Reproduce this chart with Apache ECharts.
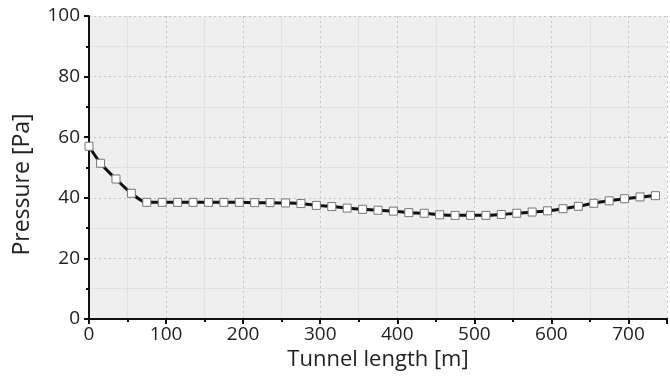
<!DOCTYPE html>
<html>
<head>
<meta charset="utf-8">
<script src="https://cdn.jsdelivr.net/npm/echarts@6/dist/echarts.min.js"></script>
<style>html,body{margin:0;padding:0;background:#fff;}#c{width:670px;height:382px;}</style>
</head>
<body>
<div id="c"></div>
<script>
const xValues = [0, 15, 35, 55, 75, 95, 115, 135, 155, 175, 195, 215, 235, 255, 275, 295, 315, 335, 355, 375, 395, 415, 435, 455, 475, 495, 515, 535, 555, 575, 595, 615, 635, 655, 675, 695, 715, 735];
const pressure = [57, 51.4, 46.2, 41.5, 38.5, 38.5, 38.5, 38.5, 38.5, 38.5, 38.5, 38.4, 38.4, 38.3, 38.1, 37.5, 37.1, 36.6, 36.2, 35.9, 35.6, 35.1, 34.9, 34.4, 34.2, 34.2, 34.2, 34.5, 34.9, 35.3, 35.7, 36.4, 37.2, 38.2, 39.0, 39.7, 40.3, 40.7];
const xTicks = [0, 100, 200, 300, 400, 500, 600, 700];
const yTicks = [0, 20, 40, 60, 80, 100];
const xName = 'Tunnel length [m]';
const yName = 'Pressure [Pa]';

const data = xValues.map((x, i) => [x, pressure[i]]);
const font = 'Open Sans, Liberation Sans, Arial, sans-serif';
const chart = echarts.init(document.getElementById('c'), null, {renderer: 'canvas'});
chart.setOption({
  animation: false,
  backgroundColor: '#ffffff',
  grid: {left: 89, top: 16, right: -6, bottom: 63, show: true, backgroundColor: '#efefef', borderWidth: 0},
  xAxis: [{
    type: 'value', min: 0, max: 750, interval: 100,
    name: xName, nameLocation: 'middle', nameGap: 24,
    nameTextStyle: {fontFamily: font, fontSize: 22, color: '#222'},
    axisLine: {show: true, onZero: false, lineStyle: {color: '#111', width: 2}},
    axisTick: {show: true, length: 5, lineStyle: {color: '#111', width: 2}},
    minorTick: {show: true, splitNumber: 2, length: 3, lineStyle: {color: '#111', width: 2}},
    axisLabel: {fontFamily: font, fontSize: 19, color: '#222', margin: 6,
      formatter: v => xTicks.includes(v) ? String(v) : ''},
    splitLine: {show: true, lineStyle: {color: '#c4c4c4', type: [2, 3], width: 1}},
    minorSplitLine: {show: true, lineStyle: {color: '#e2e2e2', width: 1}}
  }, {
    type: 'value', position: 'top', min: 0, max: 750,
    axisLine: {show: true, lineStyle: {color: '#111', width: 2}},
    axisTick: {show: false}, axisLabel: {show: false}, splitLine: {show: false}
  }],
  yAxis: {
    type: 'value', min: 0, max: 100, interval: 20,
    name: yName, nameLocation: 'middle', nameGap: 55, nameRotate: 90,
    nameTextStyle: {fontFamily: font, fontSize: 23, color: '#222', padding: [0, 34, 0, 0]},
    axisLine: {show: true, onZero: false, lineStyle: {color: '#111', width: 2}},
    axisTick: {show: true, length: 5, lineStyle: {color: '#111', width: 2}},
    minorTick: {show: true, splitNumber: 2, length: 3, lineStyle: {color: '#111', width: 2}},
    axisLabel: {fontFamily: font, fontSize: 19, color: '#222', margin: 9,
      formatter: v => yTicks.includes(v) ? String(v) : ''},
    splitLine: {show: true, lineStyle: {color: '#c4c4c4', type: [2, 3], width: 1}},
    minorSplitLine: {show: true, lineStyle: {color: '#e2e2e2', width: 1}}
  },
  series: [{
    type: 'line', data: data, smooth: 0.3,
    lineStyle: {color: '#111', width: 3},
    symbol: 'rect', symbolSize: 8, showAllSymbol: true,
    itemStyle: {color: '#ffffff', borderColor: '#777', borderWidth: 1}
  }]
});
</script>
</body>
</html>
